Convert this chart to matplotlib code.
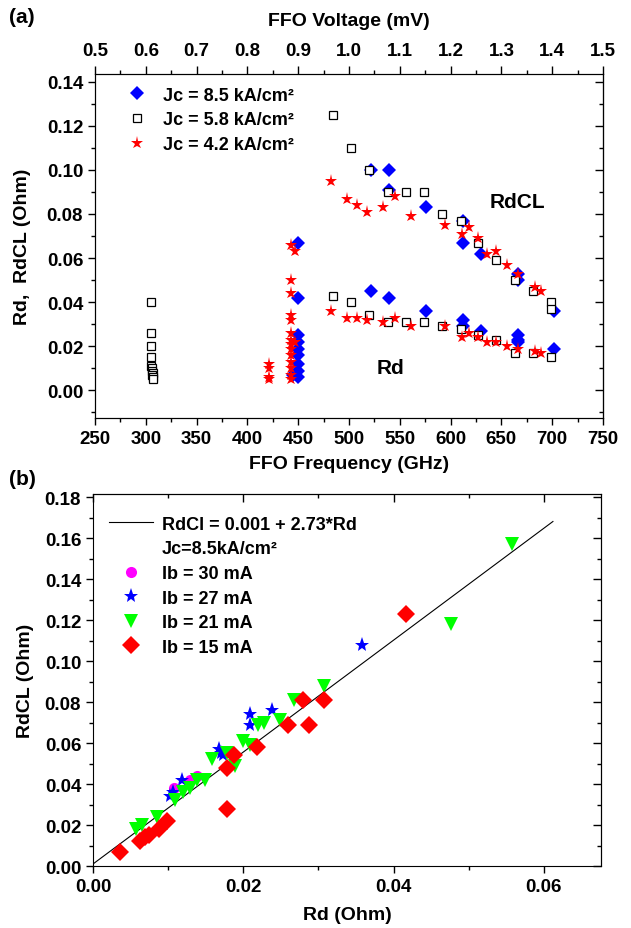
import matplotlib
matplotlib.use("Agg")
import matplotlib.pyplot as plt
from matplotlib.lines import Line2D
from matplotlib.ticker import MultipleLocator

plt.rcParams["font.family"] = ["Liberation Sans", "DejaVu Sans"]
plt.rcParams["font.weight"] = "bold"
plt.rcParams["axes.labelweight"] = "bold"
plt.rcParams["font.size"] = 13
plt.rcParams["xtick.labelsize"] = 13.5
plt.rcParams["ytick.labelsize"] = 13.5

# ---- panel (a): Rd / RdCL vs FFO frequency ----
# Jc = 8.5 kA/cm2 (blue diamonds)
f85 = [522, 539, 539, 576, 612, 612, 630, 666, 666, 702,
       522, 539, 576, 612, 612, 630, 666, 666, 666, 702,
       450, 450, 450, 450, 450, 450, 450, 450, 450, 445]
r85 = [0.100, 0.100, 0.091, 0.083, 0.077, 0.067, 0.062, 0.053, 0.050, 0.036,
       0.045, 0.042, 0.036, 0.032, 0.029, 0.027, 0.025, 0.023, 0.022, 0.019,
       0.067, 0.042, 0.025, 0.022, 0.019, 0.016, 0.012, 0.009, 0.006, 0.007]
# Jc = 5.8 kA/cm2 (open squares)
f58 = [484, 502, 520, 538, 556, 574, 592, 610, 627, 645, 663, 681, 699, 699,
       484, 502, 520, 538, 556, 574, 592, 610, 627, 645, 663, 681, 699,
       305, 305, 305, 305, 305, 306, 306, 307, 306, 307, 307]
r58 = [0.125, 0.110, 0.100, 0.090, 0.090, 0.090, 0.080, 0.077, 0.067, 0.059, 0.050, 0.045, 0.040, 0.037,
       0.043, 0.040, 0.034, 0.031, 0.031, 0.031, 0.029, 0.028, 0.025, 0.023, 0.017, 0.017, 0.015,
       0.040, 0.026, 0.020, 0.015, 0.011, 0.010, 0.009, 0.008, 0.007, 0.006, 0.005]
# Jc = 4.2 kA/cm2 (red stars)
f42 = [482, 498, 508, 518, 533, 545, 561, 594, 611, 618, 627, 636, 645, 656, 666, 683, 689,
       482, 498, 508, 518, 533, 545, 561, 594, 611, 618, 627, 636, 645, 656, 666, 683, 689,
       421, 421, 421, 421,
       443, 447, 443, 443, 443, 443, 443, 443, 447, 443, 443, 443, 443, 443, 443, 443]
r42 = [0.095, 0.087, 0.084, 0.081, 0.083, 0.088, 0.079, 0.075, 0.071, 0.074, 0.069, 0.062, 0.063, 0.057, 0.053, 0.047, 0.045,
       0.036, 0.033, 0.033, 0.032, 0.031, 0.033, 0.029, 0.029, 0.024, 0.026, 0.024, 0.022, 0.022, 0.020, 0.019, 0.018, 0.017,
       0.012, 0.010, 0.006, 0.005,
       0.066, 0.063, 0.050, 0.044, 0.034, 0.032, 0.026, 0.023, 0.022, 0.021, 0.019, 0.016, 0.013, 0.010, 0.007, 0.005]
volt_ticks = [0.5, 0.6, 0.7, 0.8, 0.9, 1.0, 1.1, 1.2, 1.3, 1.4, 1.5]

# ---- panel (b): RdCL vs Rd ----
rd_30 = [0.0108, 0.0129, 0.0139]
cl_30 = [0.038, 0.042, 0.044]
rd_27 = [0.0102, 0.0106, 0.0119, 0.0168, 0.0170, 0.0173, 0.0209, 0.0209, 0.0238, 0.0358]
cl_27 = [0.034, 0.036, 0.042, 0.057, 0.055, 0.054, 0.074, 0.069, 0.076, 0.108]
rd_21 = [0.0057, 0.0065, 0.0085, 0.0109, 0.0120, 0.0129, 0.0139, 0.0149, 0.0159, 0.0178,
         0.0189, 0.0199, 0.0209, 0.0219, 0.0228, 0.0249, 0.0268, 0.0308, 0.0477, 0.0558]
cl_21 = [0.018, 0.020, 0.024, 0.032, 0.036, 0.038, 0.042, 0.042, 0.052, 0.055,
         0.049, 0.061, 0.059, 0.069, 0.070, 0.071, 0.081, 0.088, 0.118, 0.157]
rd_15 = [0.0036, 0.0062, 0.0069, 0.0074, 0.0088, 0.0099, 0.0178, 0.0178, 0.0188, 0.0218,
         0.0259, 0.0279, 0.0288, 0.0308, 0.0417]
cl_15 = [0.007, 0.012, 0.014, 0.015, 0.018, 0.022, 0.028, 0.048, 0.054, 0.058,
         0.069, 0.081, 0.069, 0.081, 0.123]
fit_a, fit_b = 0.001, 2.73
fit_x = [0.0, 0.0612]


def style_ticks(axis_obj, direction, major_len=5, minor_len=3, **kw):
    axis_obj.tick_params(which="both", direction=direction, width=1, **kw)
    axis_obj.tick_params(which="major", length=major_len)
    axis_obj.tick_params(which="minor", length=minor_len)


fig = plt.figure(figsize=(6.31, 9.29), dpi=100)
ax1 = fig.add_axes([0.1506, 0.549, 0.805, 0.3703])
ax2 = fig.add_axes([0.1474, 0.0667, 0.8051, 0.4005])

ax1.plot(f85, r85, "D", color="#0000ff", ms=7.5, mew=0, label="Jc = 8.5 kA/cm²")
ax1.plot(f58, r58, "s", mfc="white", mec="black", ms=5.5, mew=0.9, label="Jc = 5.8 kA/cm²")
ax1.plot(f42, r42, "*", color="#ff0000", ms=9.5, mew=0, label="Jc = 4.2 kA/cm²")
ax1.set_xlim(250, 750)
ax1.set_ylim(-0.0125, 0.1435)
ax1.xaxis.set_major_locator(MultipleLocator(50))
ax1.xaxis.set_minor_locator(MultipleLocator(25))
ax1.yaxis.set_major_locator(MultipleLocator(0.02))
ax1.yaxis.set_minor_locator(MultipleLocator(0.01))
ax1.yaxis.set_major_formatter(plt.FormatStrFormatter("%.2f"))
style_ticks(ax1, "out", right=False, top=False)
ax1.set_xlabel("FFO Frequency (GHz)", fontsize=14, labelpad=6)
ax1.set_ylabel("Rd,  RdCL (Ohm)", fontsize=14, labelpad=11)
ax1.text(527, 0.008, "Rd", fontsize=15)
ax1.text(638, 0.083, "RdCL", fontsize=15)

top = ax1.twiny()
top.set_xlim(0.5, 1.5)
top.set_xticks(volt_ticks)
top.set_xticklabels([f"{v:.1f}" for v in volt_ticks])
top.xaxis.set_minor_locator(MultipleLocator(0.05))
style_ticks(top, "out", major_len=6, minor_len=3, pad=5)
top.set_xlabel("FFO Voltage (mV)", fontsize=14, labelpad=12)

right1 = ax1.secondary_yaxis("right")
right1.yaxis.set_major_locator(MultipleLocator(0.02))
right1.yaxis.set_minor_locator(MultipleLocator(0.01))
style_ticks(right1, "in", major_len=6, minor_len=3, labelright=False)

ax1.legend(loc="upper left", bbox_to_anchor=(0.03, 1.01), frameon=False,
           handlelength=1.2, handletextpad=0.8, labelspacing=0.42, fontsize=13)

# panel (b)
ys = [fit_a + fit_b * x for x in fit_x]
ax2.plot(fit_x, ys, "-", color="black", lw=0.8, label="RdCl = 0.001 + 2.73*Rd")
ax2.plot(rd_30, cl_30, "o", color="#ff00ff", ms=8, mew=0, label="Ib = 30 mA")
ax2.plot(rd_27, cl_27, "*", color="#0000ff", ms=11, mew=0, label="Ib = 27 mA")
ax2.plot(rd_21, cl_21, "v", color="#00ff00", ms=10, mew=0, label="Ib = 21 mA")
ax2.plot(rd_15, cl_15, "D", color="#ff0000", ms=9, mew=0, label="Ib = 15 mA")
ax2.set_xlim(0, 0.0676)
ax2.set_ylim(0, 0.1815)
ax2.xaxis.set_major_locator(MultipleLocator(0.02))
ax2.xaxis.set_minor_locator(MultipleLocator(0.01))
ax2.yaxis.set_major_locator(MultipleLocator(0.02))
ax2.yaxis.set_minor_locator(MultipleLocator(0.01))
ax2.xaxis.set_major_formatter(plt.FormatStrFormatter("%.2f"))
ax2.yaxis.set_major_formatter(plt.FormatStrFormatter("%.2f"))
style_ticks(ax2, "out", right=False, top=False)
ax2.set_xlabel("Rd (Ohm)", fontsize=14, labelpad=8)
ax2.set_ylabel("RdCL (Ohm)", fontsize=14, labelpad=8)

top2 = ax2.secondary_xaxis("top")
top2.xaxis.set_major_locator(MultipleLocator(0.02))
top2.xaxis.set_minor_locator(MultipleLocator(0.01))
style_ticks(top2, "in", major_len=6, minor_len=3, labeltop=False)
right2 = ax2.secondary_yaxis("right")
right2.yaxis.set_major_locator(MultipleLocator(0.02))
right2.yaxis.set_minor_locator(MultipleLocator(0.01))
style_ticks(right2, "in", major_len=6, minor_len=3, labelright=False)

handles, labels = ax2.get_legend_handles_labels()
jc_handle = Line2D([], [], linestyle="none", marker=None)
handles = [handles[0], jc_handle] + handles[1:]
labels = [labels[0], "Jc=8.5kA/cm²"] + labels[1:]
ax2.legend(handles, labels, loc="upper left", bbox_to_anchor=(0.0, 0.985), frameon=False,
           handlelength=2.4, handletextpad=0.5, labelspacing=0.42, fontsize=13)

fig.text(0.015, 0.975, "(a)", fontsize=15)
fig.text(0.015, 0.478, "(b)", fontsize=15)

fig.savefig("out.png", dpi=100)
